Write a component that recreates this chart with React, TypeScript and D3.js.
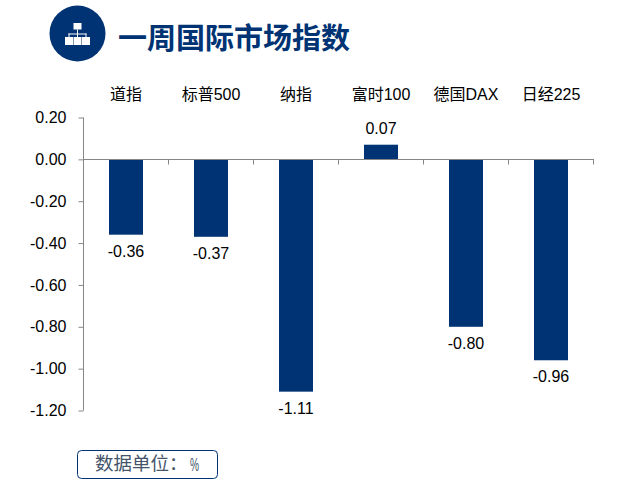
import { useRef, useEffect } from "react";
import * as d3 from "d3";

const categories = ["道指", "标普500", "纳指", "富时100", "德国DAX", "日经225"];
const values = [-0.36, -0.37, -1.11, 0.07, -0.8, -0.96];
const valueLabels = ["-0.36", "-0.37", "-1.11", "0.07", "-0.80", "-0.96"];
const yTicks = [0.2, 0, -0.2, -0.4, -0.6, -0.8, -1, -1.2];

const title = "一周国际市场指数";
const unitLabel = "数据单位：";
const unitSymbol = "%";

const width = 617;
const height = 488;
const navy = "#003373";
const axisGrey = "#868686";
const latin = "Arial, 'Liberation Sans', 'Noto Sans CJK SC', sans-serif";

export default function App() {
  const ref = useRef<SVGSVGElement>(null);

  useEffect(() => {
    if (!ref.current) return;
    const svg = d3.select(ref.current);
    svg.selectAll("*").remove();

    // Scales
    const xScale = d3
      .scaleBand<string>()
      .domain(categories)
      .range([83.5, 593.5])
      .paddingInner(0.6)
      .paddingOuter(0.3);
    const yScale = d3.scaleLinear().domain([-1.2, 0.2]).range([410.5, 117.5]);
    const zeroY = Math.floor(yScale(0)) + 0.5;

    // Bars
    svg
      .append("g")
      .selectAll("rect")
      .data(values)
      .join("rect")
      .attr("x", (_, i) => xScale(categories[i]) as number)
      .attr("y", (d) => yScale(Math.max(d, 0)))
      .attr("width", xScale.bandwidth())
      .attr("height", (d) => Math.abs(yScale(d) - yScale(0)))
      .attr("fill", navy);

    // Y axis
    const yAxis = svg
      .append("g")
      .attr("transform", "translate(83.5, 0)")
      .call(
        d3
          .axisLeft(yScale)
          .tickValues(yTicks)
          .tickFormat((d) => (d as number).toFixed(2))
          .tickSize(5)
      );
    yAxis.select(".domain").attr("stroke", axisGrey).attr("d", "M0,117.5V410.5");
    yAxis.selectAll("line").attr("stroke", axisGrey);
    yAxis
      .selectAll("text")
      .attr("x", -17)
      .attr("font-size", 16)
      .attr("font-family", latin)
      .attr("fill", "#000");

    // Zero line, ticks hang below it between the categories
    const xAxis = svg.append("g").attr("transform", `translate(0, ${zeroY})`);
    xAxis
      .append("line")
      .attr("x1", 83.5)
      .attr("x2", 594)
      .attr("stroke", axisGrey);
    xAxis
      .selectAll("line.tick")
      .data(categories)
      .join("line")
      .attr("class", "tick")
      .attr("x1", (d) => (xScale(d) as number) + xScale.bandwidth() / 2 + xScale.step() / 2)
      .attr("x2", (d) => (xScale(d) as number) + xScale.bandwidth() / 2 + xScale.step() / 2)
      .attr("y1", 0)
      .attr("y2", 5)
      .attr("stroke", axisGrey);

    // Category labels
    svg
      .append("g")
      .selectAll("text")
      .data(categories)
      .join("text")
      .attr("x", (d) => (xScale(d) as number) + xScale.bandwidth() / 2)
      .attr("y", 100)
      .attr("text-anchor", "middle")
      .attr("font-size", 16)
      .attr("font-family", latin)
      .attr("fill", "#000")
      .text((d) => d);

    // Value labels
    svg
      .append("g")
      .selectAll("text")
      .data(values)
      .join("text")
      .attr("x", (_, i) => (xScale(categories[i]) as number) + xScale.bandwidth() / 2)
      .attr("y", (d) => (d < 0 ? yScale(d) + 22 : yScale(d) - 11))
      .attr("text-anchor", "middle")
      .attr("font-size", 16)
      .attr("font-family", latin)
      .attr("fill", "#000")
      .text((_, i) => valueLabels[i]);

    // Header badge
    const badge = svg.append("g").attr("transform", "translate(77.5, 33.5)");
    badge.append("circle").attr("r", 28).attr("fill", navy);
    const icon = badge.append("g").attr("fill", "#fff");
    icon.append("rect").attr("x", -4).attr("y", -10.5).attr("width", 8).attr("height", 6.5);
    [-8.5, 0, 8.5].forEach((dx) => {
      icon.append("rect").attr("x", dx - 4).attr("y", 3.5).attr("width", 8).attr("height", 8);
    });
    icon.append("rect").attr("x", -0.5).attr("y", -4).attr("width", 1).attr("height", 7.5);
    icon.append("rect").attr("x", -9).attr("y", 0).attr("width", 18).attr("height", 1);
    icon.append("rect").attr("x", -9).attr("y", 0).attr("width", 1).attr("height", 3.5);
    icon.append("rect").attr("x", 8).attr("y", 0).attr("width", 1).attr("height", 3.5);

    // Title
    svg
      .append("text")
      .attr("x", 118)
      .attr("y", 49)
      .attr("font-size", 29)
      .attr("font-weight", 700)
      .attr("font-family", "'Noto Sans CJK SC', sans-serif")
      .attr("fill", navy)
      .text(title);

    // Unit box
    svg
      .append("rect")
      .attr("x", 77.5)
      .attr("y", 450.5)
      .attr("width", 140)
      .attr("height", 28)
      .attr("rx", 4)
      .attr("fill", "#fff")
      .attr("stroke", navy)
      .attr("stroke-width", 1);
    svg
      .append("text")
      .attr("x", 95)
      .attr("y", 470)
      .attr("font-size", 18.5)
      .attr("font-family", "'Noto Sans CJK SC', sans-serif")
      .attr("fill", "#44546a")
      .text(unitLabel);
    svg
      .append("text")
      .attr("x", 190)
      .attr("y", 471)
      .attr("font-size", 19)
      .attr("textLength", 9)
      .attr("lengthAdjust", "spacingAndGlyphs")
      .attr("font-family", latin)
      .attr("fill", "#44546a")
      .text(unitSymbol);
  }, []);

  return (
    <svg
      ref={ref}
      width={width}
      height={height}
      style={{ position: "absolute", left: 0, top: 0, background: "#fff" }}
    />
  );
}
